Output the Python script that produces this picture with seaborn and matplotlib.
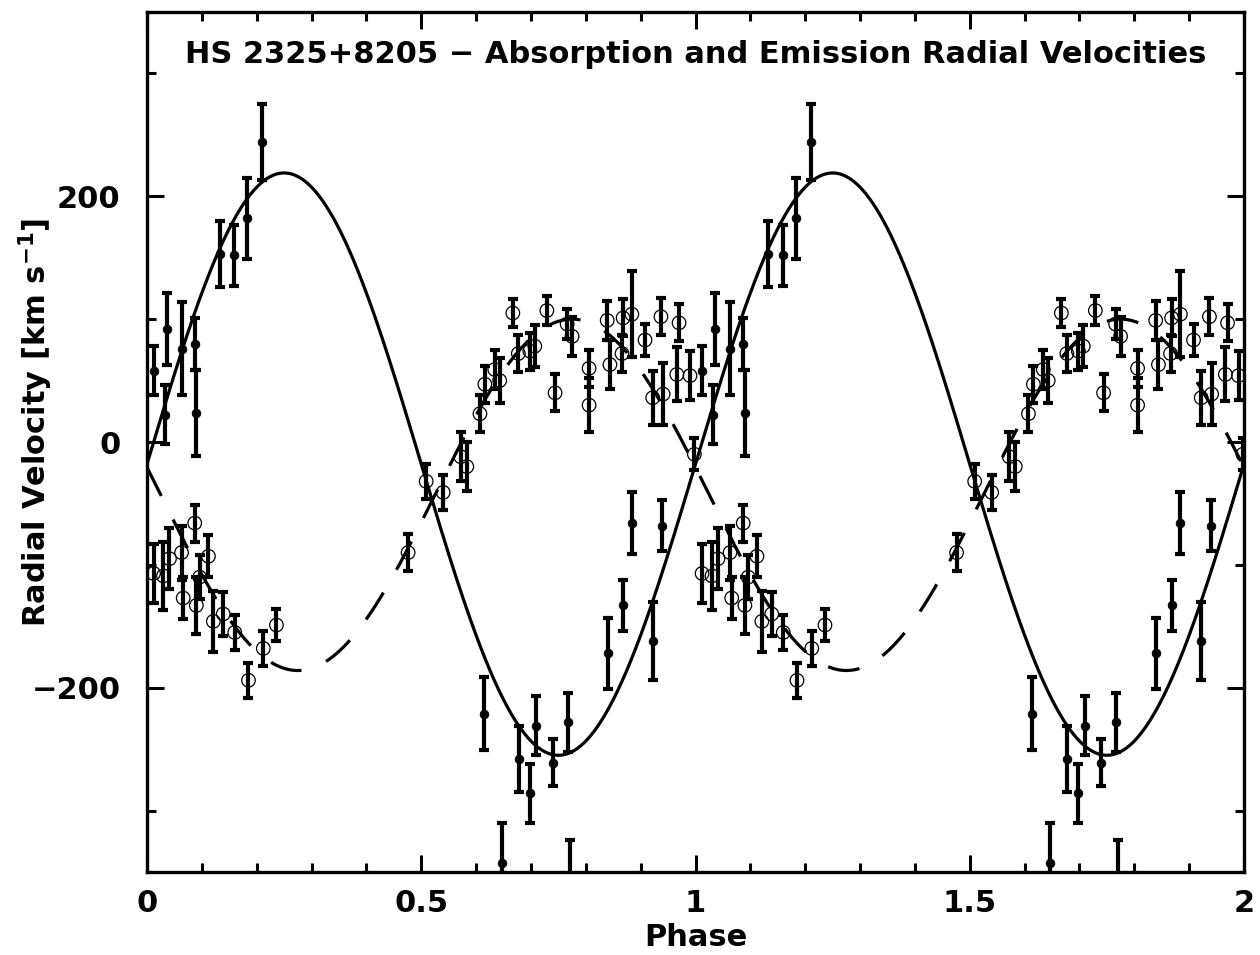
import numpy as np
import pandas as pd
import matplotlib
matplotlib.use("Agg")
import matplotlib.pyplot as plt
import seaborn as sns

# ---------------- data (one orbital cycle, plotted twice) ----------------
abs_phase = [0.012, 0.032, 0.036, 0.063, 0.087, 0.090, 0.133, 0.159, 0.183, 0.210,
             0.614, 0.647, 0.678, 0.698, 0.710, 0.740, 0.767, 0.771, 0.840, 0.868,
             0.884, 0.922, 0.939]
abs_vel = [58, 22, 92, 76, 80, 24, 153, 152, 182, 244,
           -221, -343, -258, -286, -231, -261, -228, -358, -172, -133,
           -66, -162, -68]
abs_err = [20, 24, 29, 38, 21, 35, 27, 25, 33, 31,
           30, 33, 27, 24, 24, 19, 24, 34, 29, 21,
           25, 32, 21]

em_phase = [0.998, 0.012, 0.030, 0.041, 0.063, 0.066, 0.087, 0.090, 0.096, 0.112,
            0.121, 0.139, 0.160, 0.185, 0.212, 0.236, 0.476, 0.509, 0.540, 0.572,
            0.583, 0.607, 0.616, 0.634, 0.643, 0.667, 0.677, 0.698, 0.707, 0.729,
            0.744, 0.766, 0.775, 0.806, 0.806, 0.839, 0.844, 0.866, 0.868, 0.884,
            0.908, 0.922, 0.937, 0.941, 0.966, 0.970, 0.990]
em_vel = [-10, -107, -109, -95, -90, -127, -66, -133, -110, -93,
          -146, -140, -155, -194, -168, -149, -90, -32, -41, -12,
          -20, 23, 47, 59, 50, 105, 72, 74, 78, 107,
          40, 96, 86, 60, 30, 99, 63, 72, 101, 104,
          83, 36, 102, 39, 55, 97, 54]
em_err = [13, 24, 28, 25, 22, 17, 15, 23, 18, 17,
          25, 18, 14, 14, 14, 13, 15, 14, 14, 20,
          20, 15, 15, 16, 18, 11, 15, 15, 17, 12,
          15, 12, 16, 15, 22, 16, 20, 15, 15, 35,
          13, 22, 15, 25, 22, 15, 20]

# sinusoidal fit parameters: v = gamma + K sin(2 pi (phase - phase0))
abs_gamma, abs_K, abs_phase0 = -18.0, 237.0, 0.0
em_gamma, em_K, em_phase0 = -43.0, 143.0, 0.525

title = "HS 2325+8205 \u2212 Absorption and Emission Radial Velocities"
xlabel = "Phase"
ylabel = r"Radial Velocity [km s$^{-1}$]"
xticks = [0, 0.5, 1, 1.5, 2]
xticklabels = ["0", "0.5", "1", "1.5", "2"]
yticks = [-200, 0, 200]

# ---------------- build frames (two cycles) ----------------
def two_cycles(ph, v, e):
    ph = np.asarray(ph, float)
    return pd.DataFrame({
        "phase": np.concatenate([ph, ph + 1.0]),
        "vel": np.concatenate([v, v]),
        "err": np.concatenate([e, e]),
    })

df_abs = two_cycles(abs_phase, abs_vel, abs_err)
df_em = two_cycles(em_phase, em_vel, em_err)

grid = np.linspace(0, 2, 1201)
df_fit_abs = pd.DataFrame({"phase": grid,
                           "vel": abs_gamma + abs_K * np.sin(2 * np.pi * (grid - abs_phase0))})
df_fit_em = pd.DataFrame({"phase": grid,
                          "vel": em_gamma + em_K * np.sin(2 * np.pi * (grid - em_phase0))})

# ---------------- style ----------------
sns.set_theme(style="ticks")
plt.rcParams["font.family"] = ["DejaVu Sans"]
plt.rcParams["font.weight"] = "bold"
plt.rcParams["mathtext.default"] = "bf"
plt.rcParams["lines.scale_dashes"] = False
FS = 22

fig = plt.figure(figsize=(12.6, 9.55), dpi=100)
ax = fig.add_axes([147 / 1260, (955 - 872) / 955, (1244 - 147) / 1260, (872 - 12) / 955])

# model curves
sns.lineplot(data=df_fit_abs, x="phase", y="vel", ax=ax, color="black",
             linewidth=2.3, sort=False, estimator=None, zorder=2)
sns.lineplot(data=df_fit_em, x="phase", y="vel", ax=ax, color="black",
             linewidth=2.3, sort=False, estimator=None, zorder=2,
             dashes=False)
ax.lines[-1].set_dashes([23, 19])

# error bars
ax.errorbar(df_abs["phase"], df_abs["vel"], yerr=df_abs["err"], fmt="none",
            ecolor="black", elinewidth=3.0, capsize=3.4, capthick=3.0, zorder=3)
ax.errorbar(df_em["phase"], df_em["vel"], yerr=df_em["err"], fmt="none",
            ecolor="black", elinewidth=3.0, capsize=3.4, capthick=3.0, zorder=3)

# markers
sns.scatterplot(data=df_em, x="phase", y="vel", ax=ax, marker="o", s=95,
                facecolor="none", edgecolor="black", linewidth=0.9, zorder=4)
sns.scatterplot(data=df_abs, x="phase", y="vel", ax=ax, marker="o", s=40,
                color="black", edgecolor="black", linewidth=0.5, zorder=5)

# axes
ax.set_xlim(0, 2)
ax.set_ylim(-350, 350)
ax.set_xticks(xticks)
ax.set_xticklabels(xticklabels)
ax.set_yticks(yticks)
ax.set_xticks(np.arange(0, 2.01, 0.1), minor=True)
ax.set_yticks(np.arange(-300, 301, 100), minor=True)
ax.tick_params(which="both", direction="in", top=True, right=True,
               color="black", width=2.2, labelsize=FS, labelcolor="black")
ax.tick_params(which="major", length=12)
ax.tick_params(which="minor", length=6.5)
ax.tick_params(axis="y", which="major", pad=19)
ax.tick_params(axis="x", which="major", pad=12)
for sp in ax.spines.values():
    sp.set_visible(True)
    sp.set_linewidth(2.4)
    sp.set_color("black")

ax.set_xlabel(xlabel, fontsize=FS, color="black", fontweight="bold", labelpad=4)
ax.set_ylabel(ylabel, fontsize=FS, color="black", fontweight="bold")
ax.yaxis.set_label_coords(-0.084, 0.523)
ax.text(0.5, 0.951, title, transform=ax.transAxes, ha="center", va="center",
        fontsize=FS, color="black", fontweight="bold")
ax.grid(False)

fig.savefig("out.png", dpi=100, facecolor="white")
